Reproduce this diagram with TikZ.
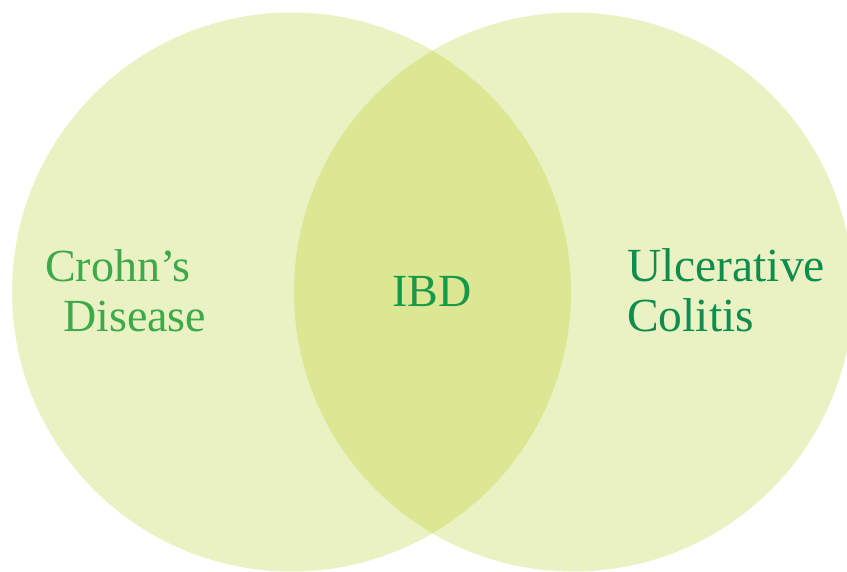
\documentclass[tikz,border=0pt]{standalone}
\usepackage{fontspec}
\setmainfont{Liberation Serif}
\definecolor{setfill}{HTML}{EAF2C3}
\definecolor{lensfill}{HTML}{DCE794}
\definecolor{cdgreen}{HTML}{3DAA4A}
\definecolor{ibdgreen}{HTML}{17994A}
\definecolor{ucgreen}{HTML}{0E8E4E}
\tikzset{
  setcircle/.style={fill=setfill, draw=none},
  label text/.style={inner sep=0pt, anchor=base west, font=\fontsize{46}{50}\selectfont},
  uc text/.style={label text, text=ucgreen, font=\fontsize{47.5}{50}\selectfont},
}
\begin{document}
\begin{tikzpicture}[x=1pt, y=1pt]
  \useasboundingbox (0,0) rectangle (847,571);
  \clip (0,0) rectangle (847,571);
  % the two sets
  \coordinate (cd) at (291.5,279);
  \coordinate (uc) at (573.5,279);
  \fill[setcircle] (cd) circle (279.5);
  \fill[setcircle] (uc) circle (279.5);
  % their overlap
  \begin{scope}
    \clip (cd) circle (279.5);
    \fill[lensfill] (uc) circle (279.5);
  \end{scope}
  % labels
  \node[label text, text=cdgreen] (cd1) at (45,289) {Crohn’s};
  \node[label text, text=cdgreen] (cd2) at (63,239) {Disease};
  \node[label text, text=ibdgreen] (ibd) at (392,264) {IBD};
  \node[uc text] (uc1) at (627,289) {Ulcerative};
  \node[uc text] (uc2) at (627,239) {Colitis};
\end{tikzpicture}
\end{document}
